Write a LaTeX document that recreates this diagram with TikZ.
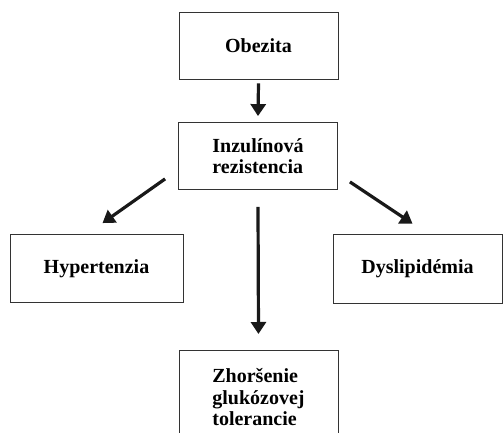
\documentclass[tikz,border=0pt]{standalone}
\usepackage{fontspec}
\setmainfont{Liberation Serif}
\usetikzlibrary{arrows.meta}

\begin{document}
\begin{tikzpicture}[x=1pt,y=-1pt,
    box/.style={draw=black!80, line width=0.8pt, inner sep=0pt, align=left,
      minimum width=159pt, minimum height=67pt,
      font=\fontsize{20}{21.5}\selectfont\bfseries},
    arr/.style={line width=3.2pt, black!90, -{Triangle[width=15pt,length=12pt]}}]
    \useasboundingbox (0,0) rectangle (504,433);
    \clip (0,0) rectangle (504,433);
    % boxes
    \node [box] (obez) at (258.5,45.5) {Obezita};
    \node [box] (inz) at (258,156) {Inzulínová\\rezistencia};
    \node [box, minimum width=173pt, minimum height=68pt] (hyp) at (96.5,268.5) {Hypertenzia};
    \node [box, minimum width=169pt, minimum height=69pt] (dys) at (417.5,268.5) {Dyslipidémia};
    \node [box, anchor=north, minimum height=94pt] (tol) at (258.5,350) {Zhoršenie\\glukózovej\\tolerancie};
    % arrows
    \draw [arr] ([yshift=-4pt]obez.south) -- ([yshift=6pt]inz.north);
    \draw [arr] ([shift={(-13pt,11pt)}]inz.south west) -- ([shift={(6pt,11pt)}]hyp.north);
    \draw [arr] ([shift={(12pt,8pt)}]inz.south east) -- ([shift={(-5pt,10pt)}]dys.north);
    \draw [arr] ([yshift=-17pt]inz.south) -- ([yshift=16pt]tol.north);
\end{tikzpicture}
\end{document}
